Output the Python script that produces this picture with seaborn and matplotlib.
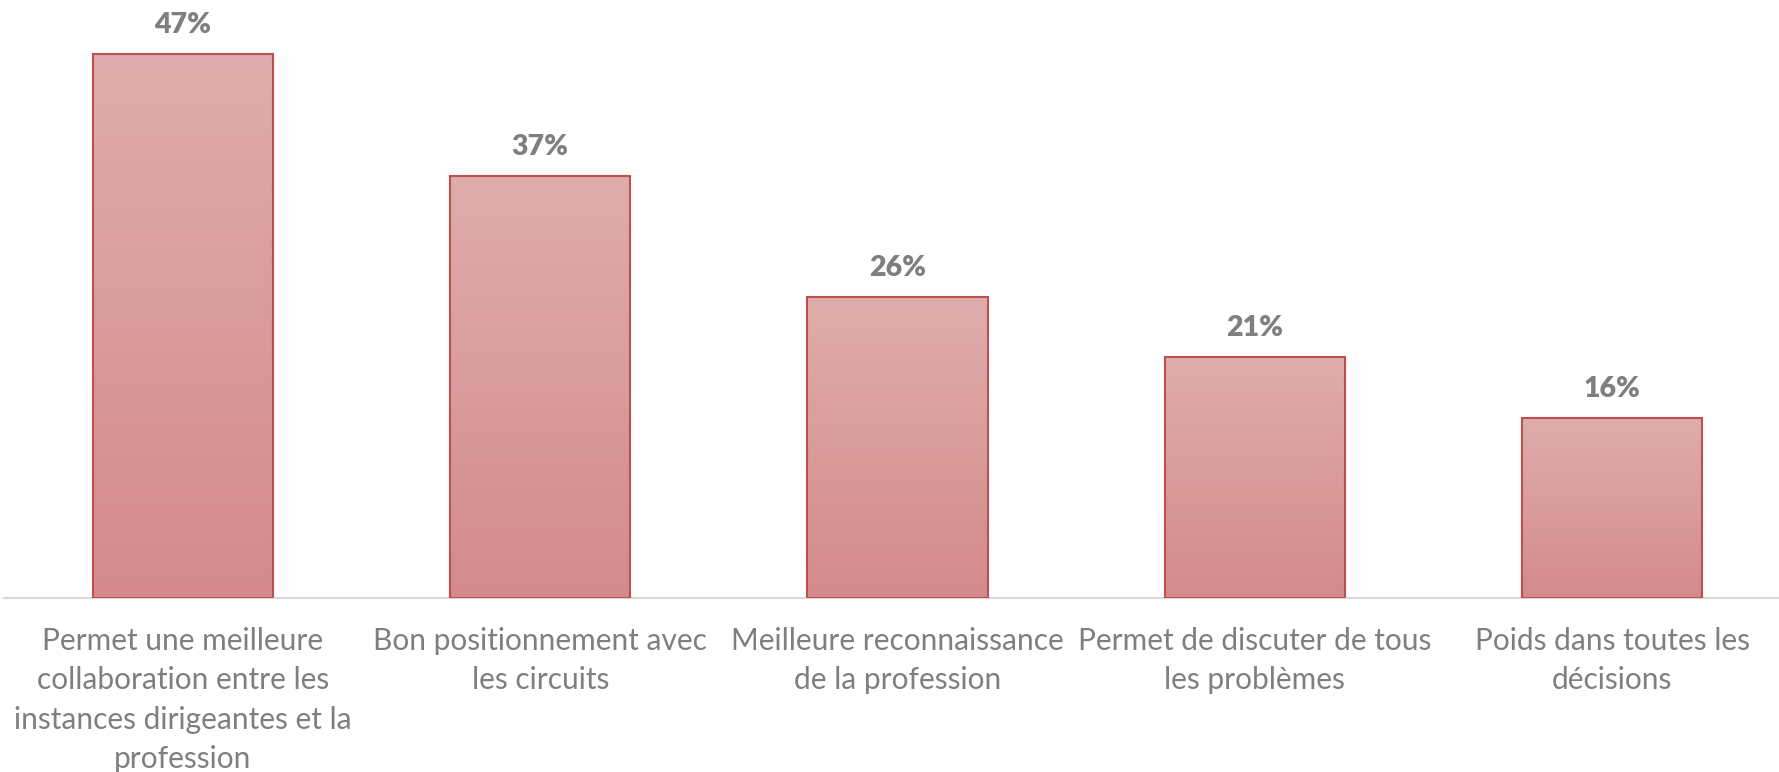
import numpy as np
import pandas as pd
import seaborn as sns
from matplotlib import pyplot as plt

categories = ['Permet une meilleure\ncollaboration entre les\ninstances dirigeantes et la\nprofession',
              'Bon positionnement avec\nles circuits',
              'Meilleure reconnaissance\nde la profession',
              'Permet de discuter de tous\nles problèmes',
              'Poids dans toutes les\ndécisions']
values = [47.4, 36.8, 26.2, 21.0, 15.7]
labels = ['47%', '37%', '26%', '21%', '16%']

df = pd.DataFrame({'cat': categories, 'val': values})

sns.set_style('white')
plt.rcParams['font.family'] = ['Lato', 'DejaVu Sans']

fig = plt.figure(figsize=(17.79, 7.72), dpi=100)
W, H = 1779, 772
x_right = (1779 - 183) / 357.25
ax = fig.add_axes([4.4 / W, (H - 598) / H, 1 - 4.4 / W, 574 / H])

sns.barplot(data=df, x='cat', y='val', ax=ax, width=0.504, color='#D99594',
            edgecolor='#C0504D', linewidth=1.5)

# vertical gradient fill inside each bar
grad = np.linspace(0, 1, 256).reshape(-1, 1)
cmap = plt.matplotlib.colors.LinearSegmentedColormap.from_list('g', ['#D48A8A', '#DFADAD'])
for p in ax.patches:
    x0, y0 = p.get_x(), p.get_y()
    w, h = p.get_width(), p.get_height()
    im = ax.imshow(grad, cmap=cmap, aspect='auto', origin='lower',
                   extent=[x0, x0 + w, y0, y0 + h], zorder=p.get_zorder() - 0.1)
    im.set_clip_path(p)
    p.set_facecolor('none')
    p.set_zorder(3)
ax.set_xlim(-0.5, x_right)
ax.set_ylim(0, 50)

for i, (v, lab) in enumerate(zip(values, labels)):
    ax.annotate(lab, (i, v), xytext=(0, 15), textcoords='offset points',
                ha='center', va='baseline', fontsize=20.5, fontweight='heavy', color='#7F7F7F')

ax.set_xlabel('')
ax.set_ylabel('')
ax.set_yticks([])
ax.tick_params(axis='x', length=0, pad=21, labelsize=21.5, labelcolor='#7F7F7F')
for s in ['top', 'right', 'left']:
    ax.spines[s].set_visible(False)
ax.spines['bottom'].set_color('#D9D9D9')
ax.spines['bottom'].set_linewidth(1.5)
for t in ax.get_xticklabels():
    t.set_linespacing(1.49)

fig.savefig('out.png', dpi=100)
